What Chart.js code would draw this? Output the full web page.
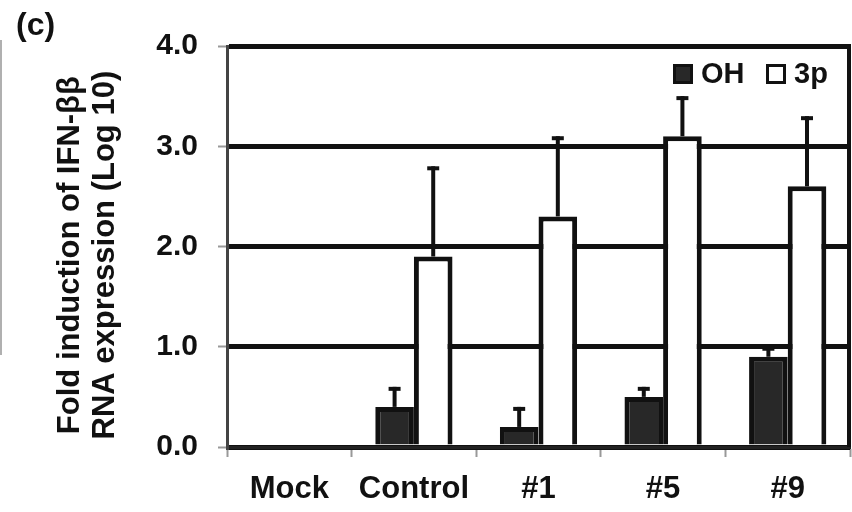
<!DOCTYPE html>
<html>
<head>
<meta charset="utf-8">
<script src="https://cdn.jsdelivr.net/npm/chart.js@4/dist/chart.umd.min.js"></script>
<style>
  body { margin: 0; background: #fff; }
  #wrap { position: relative; width: 852px; height: 512px; font-family: "Liberation Sans", Arial, sans-serif; font-weight: bold; color: #111; }
  #panel-label { position: absolute; left: 16px; top: 6px; font-size: 32px; }
  #side-line { position: absolute; left: 0; top: 40px; width: 2px; height: 315px; background: #b0b0b0; }
  .leg { position: absolute; top: 57px; font-size: 29px; line-height: 32px; }
  .leg i { display: inline-block; width: 14px; height: 14px; border: 3px solid #111; vertical-align: -1px; margin-right: 8px; }
</style>
</head>
<body>
<div id="wrap">
  <canvas id="chart" width="852" height="512"></canvas>
  <div id="panel-label">(c)</div>
  <div id="side-line"></div>
  <div class="leg" style="left:673px"><i style="background:#282828"></i>OH</div>
  <div class="leg" style="left:766px"><i style="background:#fff"></i>3p</div>
</div>
<script>
document.addEventListener('DOMContentLoaded', () => {
  const categories = ['Mock', 'Control', '#1', '#5', '#9'];
  const ohValues = [0, 0.4, 0.2, 0.5, 0.9];
  const ohErrorTop = [null, 0.6, 0.4, 0.6, 1.0];
  const p3Values = [0, 1.9, 2.3, 3.1, 2.6];
  const p3ErrorTop = [null, 2.8, 3.1, 3.5, 3.3];
  const yTicks = [0, 1, 2, 3, 4];

  const errorTops = [ohErrorTop, p3ErrorTop];

  // draw the upper error bars (stem + cap) on top of the bars
  const errorBars = {
    id: 'errorBars',
    afterDatasetsDraw(chart) {
      const ctx = chart.ctx;
      const y = chart.scales.y;
      ctx.save();
      ctx.strokeStyle = '#111';
      ctx.lineWidth = 4;
      chart.data.datasets.forEach((ds, i) => {
        chart.getDatasetMeta(i).data.forEach((bar, j) => {
          const top = errorTops[i][j];
          if (top == null) return;
          const yTop = y.getPixelForValue(top);
          ctx.beginPath();
          ctx.moveTo(bar.x, bar.y);
          ctx.lineTo(bar.x, yTop);
          ctx.stroke();
          ctx.beginPath();
          ctx.moveTo(bar.x - 6, yTop + 2);
          ctx.lineTo(bar.x + 6, yTop + 2);
          ctx.stroke();
        });
      });
      ctx.restore();
    }
  };

  // right side of the frame
  const frame = {
    id: 'frame',
    afterDraw(chart) {
      const { ctx, chartArea } = chart;
      ctx.save();
      ctx.strokeStyle = '#111';
      ctx.lineWidth = 4;
      ctx.beginPath();
      ctx.moveTo(chartArea.right - 1, chartArea.top - 2);
      ctx.lineTo(chartArea.right - 1, chartArea.bottom);
      ctx.stroke();
      ctx.restore();
    }
  };

  const font = { family: '"Liberation Sans", Arial, sans-serif', weight: 'bold' };

  new Chart(document.getElementById('chart').getContext('2d'), {
    type: 'bar',
    data: {
      labels: categories,
      datasets: [
        { label: 'OH', data: ohValues, backgroundColor: '#282828', borderColor: '#111', borderWidth: 5 },
        { label: '3p', data: p3Values, backgroundColor: '#fff', borderColor: '#111', borderWidth: 5 }
      ]
    },
    options: {
      responsive: false,
      animation: false,
      devicePixelRatio: 1,
      layout: { padding: { top: 46, right: 2, left: 0, bottom: 0 } },
      categoryPercentage: 0.62,
      barPercentage: 1.0,
      plugins: {
        legend: { display: false },
        tooltip: { enabled: false }
      },
      scales: {
        x: {
          grid: { drawOnChartArea: false, tickLength: 10, tickColor: '#999', tickWidth: 2 },
          border: { color: '#222', width: 3 },
          ticks: { color: '#111', padding: 14, font: { ...font, size: 31 } },
          afterFit(scale) { scale.height = 65; }
        },
        y: {
          min: 0,
          max: 4,
          afterBuildTicks(scale) { scale.ticks = yTicks.map(v => ({ value: v })); },
          grid: { color: '#111', lineWidth: 5, tickLength: 9, tickColor: '#999', tickWidth: 2 },
          border: { color: '#444', width: 3 },
          ticks: { color: '#111', padding: 20, font: { ...font, size: 30 }, callback: v => v.toFixed(1) },
          title: {
            display: true,
            text: ['Fold induction of IFN-ββ  ', 'RNA expression (Log 10)  '],
            color: '#111',
            font: { ...font, size: 31, lineHeight: 1.16 },
            padding: { top: 52, bottom: 0 }
          },
          afterFit(scale) { scale.width = 227; }
        }
      }
    },
    plugins: [errorBars, frame]
  });
});
</script>
</body>
</html>
